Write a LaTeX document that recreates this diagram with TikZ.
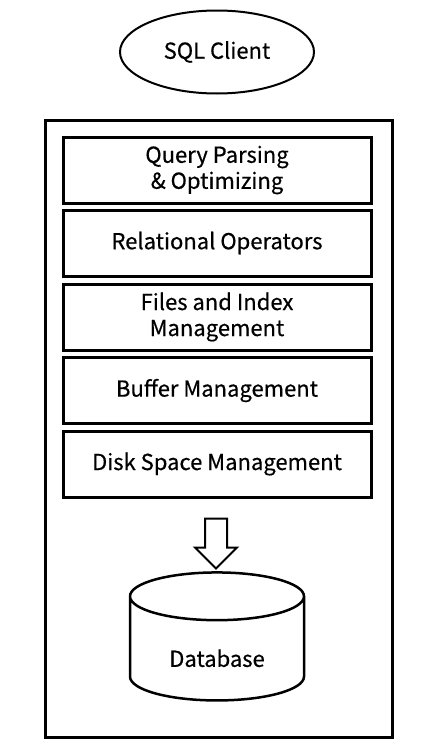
\documentclass[tikz,border=0pt]{standalone}
\usepackage{fontspec}
\setmainfont{Noto Sans CJK SC}[FakeBold=0.5]
\usepackage{tikz}
\usetikzlibrary{shapes.geometric,shapes.arrows}

\begin{document}
\begin{tikzpicture}[x=1pt, y=-1pt,
    layer/.style={rectangle, draw, line width=3pt, minimum width=308pt, minimum height=66pt, inner sep=0pt, align=center, font=\fontsize{22}{26}\selectfont},
    client/.style={ellipse, draw, line width=2pt, minimum width=194pt, minimum height=83pt, inner sep=0pt, font=\fontsize{22}{26}\selectfont},
    frame/.style={rectangle, draw, line width=3pt, minimum width=347pt, minimum height=617pt, inner sep=0pt},
    down/.style={single arrow, draw, line width=2pt, shape border rotate=270, inner sep=10pt, single arrow head extend=10pt, minimum height=50pt},
    store/.style={cylinder, draw, line width=2.5pt, shape border rotate=90, aspect=0.5, minimum width=174pt, minimum height=128pt, inner sep=0pt, text height=36pt, font=\fontsize{22}{26}\selectfont}]

    \useasboundingbox (0,0) rectangle (440,755);

    % Client
    \node[client] (SQL) at (217,52) {SQL Client};

    % DBMS frame
    \node[frame] (DBMS) at (218.5,428.5) {};

    % Layers
    \node[layer] (QP) at (217,170) {Query Parsing\\\& Optimizing};
    \node[layer] (RO) at (217,243) {Relational Operators};
    \node[layer] (FI) at (217,317) {Files and Index\\Management};
    \node[layer] (BM) at (217,390.5) {Buffer Management};
    \node[layer] (DS) at (217,464) {Disk Space Management};

    % Storage
    \node[down] (ARR) at (216,538) {};
    \node[store] (DB) at (217,649) {Database};
\end{tikzpicture}
\end{document}
